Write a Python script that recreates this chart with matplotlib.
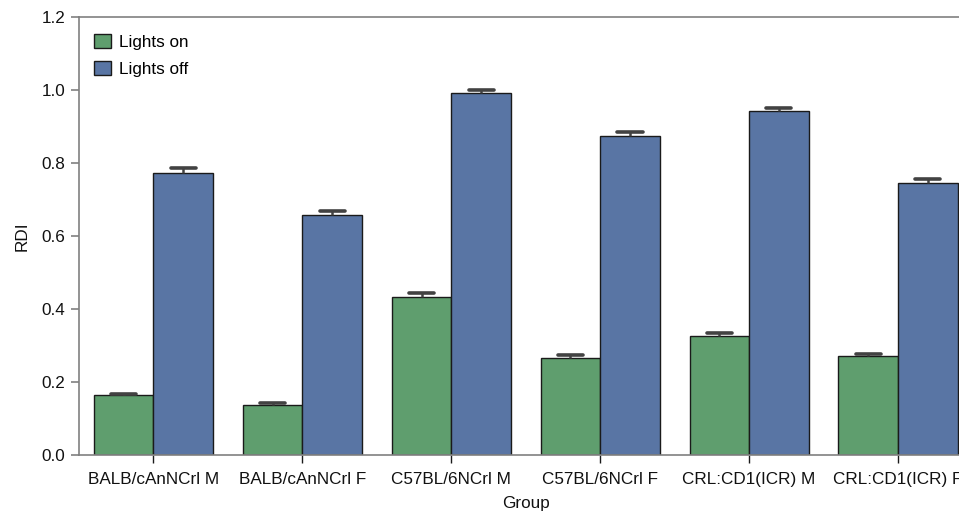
import matplotlib
matplotlib.use("Agg")
import matplotlib.pyplot as plt
import numpy as np

groups = ["BALB/cAnNCrl M", "BALB/cAnNCrl F", "C57BL/6NCrl M",
          "C57BL/6NCrl F", "CRL:CD1(ICR) M", "CRL:CD1(ICR) F"]
lights_on = [0.164, 0.138, 0.433, 0.265, 0.326, 0.271]
lights_on_err = [0.004, 0.004, 0.012, 0.008, 0.008, 0.007]
lights_off = [0.772, 0.657, 0.991, 0.875, 0.942, 0.744]
lights_off_err = [0.014, 0.011, 0.010, 0.011, 0.010, 0.013]
series_labels = ["Lights on", "Lights off"]
y_ticks = [0.0, 0.2, 0.4, 0.6, 0.8, 1.0, 1.2]

plt.rcParams["font.family"] = ["Liberation Sans", "DejaVu Sans"]
FS = 12.3

fig = plt.figure(figsize=(9.59, 5.13), dpi=100)
ax = fig.add_axes([79 / 959, 58 / 513, 893.5 / 959, 438 / 513])

green = "#5f9e6e"
blue = "#5975a4"
edge = "#1a1a1a"
errc = "#424242"
spine_c = "#808080"

x = np.arange(len(groups))
w = 0.4
cap_half = 0.084

ax.bar(x - w / 2, lights_on, width=w, color=green, edgecolor=edge,
       linewidth=1.0, label=series_labels[0], zorder=2)
ax.bar(x + w / 2, lights_off, width=w, color=blue, edgecolor=edge,
       linewidth=1.0, label=series_labels[1], zorder=2)

# upper error whiskers with caps
for xs, vals, errs in [(x - w / 2, lights_on, lights_on_err),
                       (x + w / 2, lights_off, lights_off_err)]:
    vals = np.asarray(vals)
    tops = vals + np.asarray(errs)
    ax.vlines(xs, vals, tops, color=errc, linewidth=1.8, zorder=3)
    ax.hlines(tops, xs - cap_half, xs + cap_half, color=errc,
              linewidth=2.6, zorder=3, capstyle="round")

ax.set_xlim(-0.5, len(groups) - 0.5)
ax.set_ylim(0, 1.2)
ax.set_yticks(y_ticks)
ax.set_yticklabels([f"{v:.1f}" for v in y_ticks])
ax.set_xticks(x)
ax.set_xticklabels(groups)

for s in ["left", "top", "bottom"]:
    ax.spines[s].set_color(spine_c)
    ax.spines[s].set_linewidth(1.2)
ax.spines["right"].set_visible(False)

ax.tick_params(axis="y", direction="out", length=6, width=1.2,
               color=spine_c, labelsize=FS, labelcolor="#111111", pad=4)
ax.tick_params(axis="x", direction="out", length=6, width=1.0,
               color=edge, labelsize=FS, labelcolor="#111111", pad=6)

ax.set_xlabel("Group", fontsize=FS, color="#111111", labelpad=7)
ax.set_ylabel("RDI", fontsize=FS, color="#111111", labelpad=8)

leg = ax.legend(loc="upper left", frameon=False, fontsize=FS,
                handlelength=1.0, handleheight=0.9, handletextpad=0.47,
                labelspacing=0.68, borderaxespad=0.45,
                bbox_to_anchor=(0.0, 0.995))

fig.savefig("out.png", dpi=100)
